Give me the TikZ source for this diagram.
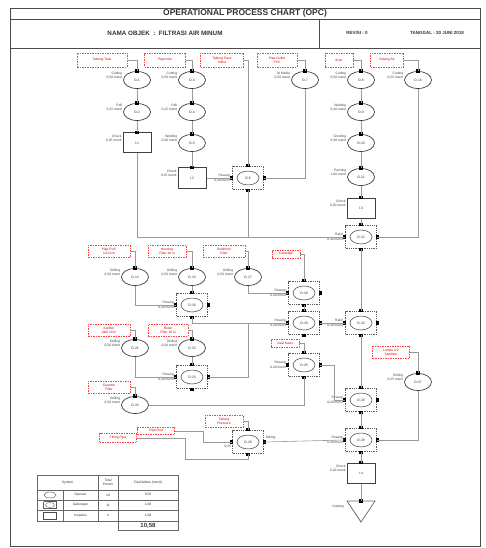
\documentclass[tikz,border=0pt]{standalone}
\usepackage{fontspec}
\setmainfont{Liberation Sans}
\usetikzlibrary{shapes.geometric,calc}
\newcommand\bdot[1]{\fill[black] (#1) +(-1.7,-1.7) rectangle +(1.7,1.7);}
\newcommand\OPN[5]{%
  \node[opn, label={[lab,anchor=south east]west:{#5}}] (#1) at (#2,#3) {#4};
  \bdot{#1.north}}
\newcommand\INS[5]{%
  \node[insp, label={[lab,anchor=south east]west:{#5}}] (#1) at (#2,#3) {#4};
  \bdot{#1.north}}
\newcommand\CMB[6]{%
  \node[comb, label={[lab,anchor=south east,xshift=-1pt]west:{#5}}, label={[lab,anchor=north east,xshift=-1pt]west:{#6}}] (#1) at (#2,#3) {};
  \node[combin] (#1e) at (#2,#3) {#4};
  \bdot{#1.north}\bdot{#1.south}\bdot{#1.east}\bdot{#1.west}}
\begin{document}
\begin{tikzpicture}[x=1pt,y=-1pt,
  lab/.style={font=\fontsize{3.3}{3.9}\selectfont, inner sep=0.8pt, align=right, text=black!75},
  idf/.style={font=\fontsize{3.4}{4}\selectfont, text=black!80},
  opn/.style={ellipse, draw=black!75, line width=0.7pt, minimum width=27pt, minimum height=17pt, inner sep=0pt, idf},
  insp/.style={rectangle, draw=black!75, line width=1pt, minimum width=28pt, minimum height=20pt, inner sep=0pt, idf},
  comb/.style={rectangle, draw=black!65, line width=1.6pt, dash pattern=on 0.9pt off 0.9pt, minimum width=31pt, minimum height=23pt, inner sep=0pt},
  combin/.style={ellipse, draw=black!75, line width=0.5pt, minimum width=22pt, minimum height=14pt, inner sep=0pt, idf},
  mat/.style={rectangle, draw=red!75, dash pattern=on 1.5pt off 1pt, line width=0.55pt, text=red!80!black, font=\fontsize{3.3}{3.9}\selectfont, align=center, inner sep=0.5pt},
  conn/.style={draw=black!40, line width=0.6pt},
  hdr/.style={font=\bfseries\fontsize{4.5}{5}\selectfont, text=black!80},
  cell/.style={font=\fontsize{3.3}{3.9}\selectfont, align=center, inner sep=0pt, text=black!80}
]
\fill[white] (0,0) rectangle (485,548);
\useasboundingbox (0,0) rectangle (485,548);

% frame and header
\draw[black!70, line width=0.8pt] (10,8) rectangle (480,546);
\draw[black!70, line width=0.8pt] (10,19) -- (480,19);
\draw[black!70, line width=0.8pt] (10,48) -- (480,48);
\draw[black!70, line width=0.8pt] (319,19) -- (319,48);
\node[font=\bfseries\fontsize{8.5}{9}\selectfont, text=black!80] (title) at (245,13.7) {OPERATIONAL PROCESS CHART (OPC)};
\node[font=\bfseries\fontsize{6.3}{7}\selectfont, text=black!80] (obj) at (165,33) {NAMA OBJEK \ : \ FILTRASI AIR MINUM};
\node[hdr] (rev) at (357,33) {REVISI : 0};
\node[hdr] (tgl) at (437,33) {TANGGAL : 20 JUNI 2018};

% material boxes (top)
\node[mat, minimum width=50pt, minimum height=14pt] (m1) at (102,60) {Tabung Tank};
\node[mat, minimum width=41pt, minimum height=14pt] (m2) at (165,60) {Pipa Inlet};
\node[mat, minimum width=43pt, minimum height=14pt] (m3) at (222,60) {Tabung Pasir\\Silika};
\node[mat, minimum width=40pt, minimum height=14pt] (m4) at (277,60) {Pipa Outlet\\PVC};
\node[mat, minimum width=28pt, minimum height=14pt] (m5) at (339,60) {Kran};
\node[mat, minimum width=33pt, minimum height=14pt] (m6) at (387,60) {Selang Air};

% top symbols
\OPN{o1}{137}{80}{O-1}{Cutting\\0,50 menit}
\OPN{o2}{137}{112}{O-2}{Drill\\0,25 menit}
\INS{i1}{137}{143}{I-1}{Check\\0,25 menit}
\OPN{o3}{192}{80}{O-3}{Cutting\\0,50 menit}
\OPN{o4}{192}{112}{O-4}{Drill\\0,25 menit}
\OPN{o5}{192}{143}{O-5}{Welding\\0,40 menit}
\INS{i2}{192}{178}{I-2}{Check\\0,25 menit}
\CMB{g1}{248}{178}{O-6}{Pasang}{0,30 menit}
\OPN{o7}{305}{80}{O-7}{Isi Media\\0,50 menit}
\OPN{o8}{361}{80}{O-8}{Cutting\\0,50 menit}
\OPN{o9}{361}{112}{O-9}{Welding\\0,40 menit}
\OPN{o10}{361}{143}{O-10}{Grinding\\0,30 menit}
\OPN{o11}{361}{177}{O-11}{Painting\\1,00 menit}
\INS{i3}{361}{208}{I-3}{Check\\0,20 menit}
\OPN{o13}{418}{80}{O-13}{Cutting\\0,25 menit}
\CMB{g2}{361}{237}{O-12}{Rakit}{0,30 menit}

% top connectors
\draw[conn] (m1.east) -| (o1.north);
\draw[conn] (m2.east) -| (o3.north);
\draw[conn] (m3.east) -| (g1.north);
\draw[conn] (m4.east) -| (o7.north);
\draw[conn] (m5.east) -| (o8.north);
\draw[conn] (m6.east) -| (o13.north);
\draw[conn] (o1.south) -- (o2.north);
\draw[conn] (o2.south) -- (i1.north);
\draw[conn] (o3.south) -- (o4.north);
\draw[conn] (o4.south) -- (o5.north);
\draw[conn] (o5.south) -- (i2.north);
\draw[conn] (i2.east) -- (g1.west);
\draw[conn] (o7.south) |- (g1.east);
\draw[conn] (o8.south) -- (o9.north);
\draw[conn] (o9.south) -- (o10.north);
\draw[conn] (o10.south) -- (o11.north);
\draw[conn] (o11.south) -- (i3.north);
\draw[conn] (i3.south) -- (g2.north);
\draw[conn] (i1.south) |- (g2.west);
\draw[conn] (g1.south) |- (g2.west);
\draw[conn] (o13.south) |- (g2.east);

% middle material boxes
\node[mat, minimum width=42pt, minimum height=12pt] (m7) at (109,251) {Pipa PVC\\1/2 inch};
\node[mat, minimum width=38pt, minimum height=12pt] (m8) at (167,251) {Housing\\Filter 10 in};
\node[mat, minimum width=42pt, minimum height=12pt] (m9) at (224,251) {Sediment\\Filter};
\node[mat, minimum width=28pt, minimum height=8pt] (m10) at (286,254) {Cartridge};
\node[mat, minimum width=42pt, minimum height=12pt] (m11) at (109,330) {Karbon\\Aktif 10 in};
\node[mat, minimum width=40pt, minimum height=12pt] (m12) at (168,330) {Resin\\Filter 10 in};
\node[mat, minimum width=42pt, minimum height=12pt] (m13) at (109,387) {Ceramic\\Filter};
\node[mat, minimum width=28pt, minimum height=8pt] (m14) at (285,343) {Seal Karet};
\node[mat, minimum width=37pt, minimum height=12pt] (m15) at (391,352) {Lampu UV\\Sterilizer};
\node[mat, minimum width=38pt, minimum height=12pt] (m16) at (224,421) {Tabung\\Pressure};
\node[mat, minimum width=37pt, minimum height=7pt] (m17) at (156,431) {Pipa Drat};
\node[mat, minimum width=37pt, minimum height=9pt] (m18) at (118,438) {Fitting Pipa};

% middle symbols
\OPN{o14}{135}{277}{O-14}{Drilling\\0,50 menit}
\OPN{o15}{192}{277}{O-15}{Drilling\\0,50 menit}
\OPN{o17}{248}{277}{O-17}{Drilling\\0,50 menit}
\CMB{g16}{192}{305}{O-16}{Pasang}{0,20 menit}
\CMB{g18}{304}{293}{O-18}{Pasang}{0,20 menit}
\CMB{g19}{304}{323}{O-19}{Pasang}{0,20 menit}
\CMB{g20}{361}{323}{O-20}{Rakit}{0,30 menit}
\OPN{o21}{135}{348}{O-21}{Drilling\\0,50 menit}
\OPN{o22}{192}{348}{O-22}{Drilling\\0,50 menit}
\CMB{g23}{192}{377}{O-23}{Pasang}{0,20 menit}
\OPN{o24}{135}{405}{O-24}{Drilling\\0,50 menit}
\CMB{g25}{304}{365}{O-25}{Pasang}{0,20 menit}
\CMB{g26}{361}{400}{O-26}{Pasang}{0,20 menit}
\OPN{o27}{418}{382}{O-27}{Drilling\\0,25 menit}
\CMB{g28}{361}{440}{O-28}{Pasang}{0,30 menit}
\node[comb] (g29) at (248,442) {};
\node[combin] (g29e) at (248,442) {O-29};
\bdot{g29.north}\bdot{g29.south}\bdot{g29.east}\bdot{g29.west}
\node[lab, anchor=north east] (g29t) at (232,444) {0,25};
\node[lab, anchor=south west] (g29n) at (265,440) {Mixing};
\INS{i4}{361}{473}{I-4}{Check\\0,20 menit}
\draw[draw=black!60, line width=0.7pt] (347,501) -- (375,501) -- (361,522) -- cycle;
\coordinate (st) at (361,501);
\bdot{st}
\node[lab, anchor=east] (stl) at (345,507) {Gudang};

% middle connectors
\coordinate (j1) at (248,323);
\draw[conn] (m7.east) -| (o14.north);
\draw[conn] (m8.east) -| (o15.north);
\draw[conn] (m9.east) -| (o17.north);
\draw[conn] (m10.east) -| (g18.north);
\draw[conn] (o14.south) |- (g16.west);
\draw[conn] (o15.south) -- (g16.north);
\draw[conn] (o17.south) |- (g18.west);
\draw[conn] (g18.south) -- (g19.north);
\draw[conn] (g16.south) |- (g19.west);
\draw[conn] (g19.east) -- (g20.west);
\draw[conn] (g2.south) -- (g20.north);
\draw[conn] (m11.east) -| (o21.north);
\draw[conn] (m12.east) -| (o22.north);
\draw[conn] (o21.south) |- (g23.west);
\draw[conn] (o22.south) -- (g23.north);
\draw[conn] (g23.east) -| (j1);
\draw[conn] (m13.east) -| (o24.north);
\draw[conn] (o24.east) -| (g25.south);
\draw[conn] (m14.east) -| (g25.north);
\draw[conn] (g25.east) -- ++(14,0) |- (g26.west);
\draw[conn] (g20.south) -- (g26.north);
\draw[conn] (g26.south) -- (g28.north);
\draw[conn] (m15.east) -| (o27.north);
\draw[conn] (o27.south) |- (g28.east);
\draw[conn] (g29.east) -- (g28.west);
\draw[conn] (m16.east) -| (g29.north);
\draw[conn] (m17.east) -- (203,431) |- (g29.west);
\draw[conn] (m18.east) -- (185,438) |- (248,459) -- (g29.south);
\draw[conn] (g28.south) -- (i4.north);
\draw[conn] (i4.south) -- (st);

% summary table
\draw[black!60, line width=0.5pt] (37,475) rectangle (178,521);
\draw[black!60, line width=0.5pt] (37,490) -- (178,490);
\draw[black!60, line width=0.5pt] (37,500) -- (178,500);
\draw[black!60, line width=0.5pt] (37,510) -- (178,510);
\draw[black!60, line width=0.5pt] (63,490) -- (63,521);
\draw[black!60, line width=0.5pt] (98,475) -- (98,521);
\draw[black!60, line width=0.5pt] (118,475) -- (118,530) -- (178,530) -- (178,521);
\node[cell] (th1) at (67.5,482.5) {Symbol};
\node[cell] (th2) at (108,482.5) {Total\\Proses};
\node[cell] (th3) at (148,482.5) {Total Waktu (menit)};
\node[ellipse, draw=black!70, line width=0.4pt, minimum width=12pt, minimum height=6pt, inner sep=0pt] (ic1) at (50,495) {};
\node[rectangle, draw=black!65, line width=0.9pt, dash pattern=on 0.5pt off 0.5pt, minimum width=13pt, minimum height=7pt, inner sep=0pt] (ic2) at (50,505) {};
\node[ellipse, draw=black!70, line width=0.3pt, minimum width=9pt, minimum height=5pt, inner sep=0pt] (ic2e) at (50,505) {};
\node[rectangle, draw=black!70, line width=0.6pt, minimum width=13pt, minimum height=7pt, inner sep=0pt] (ic3) at (50,515.5) {};
\node[cell] (r1a) at (80.5,495) {Operasi};
\node[cell] (r2a) at (80.5,505) {Gabungan};
\node[cell] (r3a) at (80.5,515.5) {Inspeksi};
\node[cell] (r1b) at (108,495) {18};
\node[cell] (r2b) at (108,505) {11};
\node[cell] (r3b) at (108,515.5) {4};
\node[cell] (r1c) at (148,495) {8,50};
\node[cell] (r2c) at (148,505) {1,08};
\node[cell] (r3c) at (148,515.5) {1,00};
\node[cell, font=\bfseries\fontsize{6}{7}\selectfont] (tot) at (148,525.8) {10,58};
\end{tikzpicture}
\end{document}
